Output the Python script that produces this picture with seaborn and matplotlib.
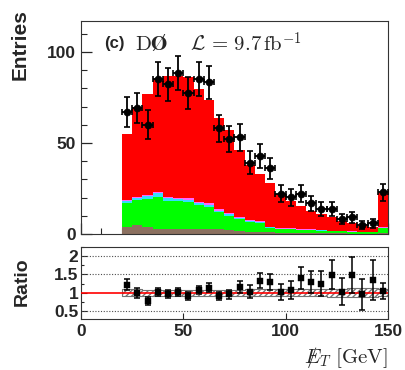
import numpy as np
import pandas as pd
import matplotlib
matplotlib.use('Agg')
import matplotlib.pyplot as plt
from matplotlib.ticker import MultipleLocator
import seaborn as sns

# binning: 5 GeV bins from 20 to 150
edges = np.arange(20, 155, 5)
centers = edges[:-1] + 2.5

data = [67.2, 69.2, 60.1, 85.0, 82.2, 88.3, 77.3, 85.2, 83.3, 58.0, 52.2, 53.1, 39.2,
        43.0, 36.0, 22.0, 20.1, 22.2, 16.8, 13.8, 13.7, 8.1, 9.2, 5.0, 6.0, 22.9]

# stacked backgrounds (per bin)
red = [36.3, 49.5, 55.6, 61.7, 66.7, 67.0, 66.4, 61.7, 56.8, 50.0, 45.6, 36.8, 30.3,
       25.9, 24.0, 18.7, 14.9, 12.8, 10.3, 8.8, 7.3, 5.3, 4.7, 3.1, 2.9, 18.6]
pink = [0.6, 0.7, 0.8, 0.9, 0.8, 0.8, 0.8, 0.8, 0.8, 0.7, 0.6, 0.5, 0.5,
        0.5, 0.4, 0.35, 0.35, 0.3, 0.3, 0.25, 0.2, 0.2, 0.2, 0.2, 0.15, 0.3]
cyan = [1.2, 1.3, 1.5, 2.2, 1.3, 1.3, 1.2, 1.1, 1.0, 0.9, 0.8, 0.6, 0.5,
        0.5, 0.3, 0.25, 0.2, 0.2, 0.2, 0.15, 0.15, 0.12, 0.1, 0.1, 0.08, 0.25]
green = [12.9, 13.5, 15.1, 17.2, 15.6, 15.3, 15.0, 13.1, 12.0, 9.5, 8.0, 6.5, 5.4,
         5.0, 2.4, 2.0, 1.95, 1.7, 1.6, 1.4, 1.25, 1.2, 1.0, 0.8, 0.67, 2.65]
brown = [4.0, 5.0, 4.0, 3.0, 2.6, 2.6, 2.6, 2.8, 3.0, 2.5, 2.0, 1.6, 1.3,
         1.1, 0.9, 0.7, 0.6, 0.5, 0.4, 0.4, 0.3, 0.3, 0.2, 0.2, 0.2, 0.5]

ratio = [1.22, 0.99, 0.78, 1.01, 0.95, 1.02, 0.91, 1.06, 1.14, 0.91, 0.95, 1.16, 1.03,
         1.33, 1.30, 1.02, 1.08, 1.41, 1.29, 1.25, 1.49, 1.03, 1.48, 0.95, 1.35, 1.04]
ratio_err = [0.15, 0.13, 0.11, 0.11, 0.11, 0.11, 0.10, 0.11, 0.13, 0.12, 0.13, 0.16, 0.17,
             0.21, 0.22, 0.22, 0.25, 0.30, 0.31, 0.34, 0.40, 0.36, 0.49, 0.42, 0.55, 0.22]
band = [0.09, 0.09, 0.08, 0.08, 0.08, 0.08, 0.08, 0.08, 0.08, 0.08, 0.08, 0.08, 0.09,
        0.09, 0.09, 0.09, 0.10, 0.10, 0.10, 0.10, 0.11, 0.11, 0.12, 0.12, 0.12, 0.10]

procs = ['red', 'pink', 'cyan', 'green', 'brown']
colors = {'red': '#ff0000', 'pink': '#ff66ff', 'cyan': '#33ddff',
          'green': '#00ff00', 'brown': '#8b7060'}

sns.set_style('ticks')
plt.rcParams['font.family'] = ['Liberation Sans', 'DejaVu Sans']
plt.rcParams['font.weight'] = 'bold'
plt.rcParams['mathtext.fontset'] = 'cm'
plt.rcParams['xtick.direction'] = 'in'
plt.rcParams['ytick.direction'] = 'in'

fig = plt.figure(figsize=(4.05, 3.70), dpi=100)
ax = fig.add_axes([0.2, 0.3676, 0.758, 0.5757])
rax = fig.add_axes([0.2, 0.138, 0.758, 0.1944])

mc = pd.DataFrame({
    'met': np.tile(centers, len(procs)),
    'w': np.concatenate([red, pink, cyan, green, brown]),
    'proc': np.repeat(procs, len(centers)),
})
sns.histplot(data=mc, x='met', weights='w', hue='proc', hue_order=procs,
             palette=colors, multiple='stack', bins=edges.tolist(), element='step',
             alpha=1, linewidth=0, legend=False, ax=ax)

ax.errorbar(centers, data, yerr=np.sqrt(data), xerr=2.5, fmt='none', ecolor='black',
            elinewidth=1.3, capsize=2.5, capthick=1.2, zorder=4)
sns.scatterplot(x=centers, y=data, color='black', marker='o', s=26, edgecolor='black',
                ax=ax, zorder=5)

ax.set_xlim(0, 150)
ax.set_ylim(0, 117)
ax.set_xlabel('')
ax.set_ylabel('')
ax.xaxis.set_major_locator(MultipleLocator(50))
ax.xaxis.set_minor_locator(MultipleLocator(10))
ax.yaxis.set_major_locator(MultipleLocator(50))
ax.yaxis.set_minor_locator(MultipleLocator(10))
ax.tick_params(axis='x', labelbottom=False)
ax.tick_params(which='major', length=8, width=0.9, labelsize=12.5)
ax.tick_params(which='minor', length=4, width=0.8)

ax.text(0.075, 0.895, '(c)', transform=ax.transAxes, fontsize=12, fontweight='bold', va='center')
ax.text(0.175, 0.895, r'$\mathrm{D\O}$', transform=ax.transAxes, fontsize=15, va='center')
ax.text(0.355, 0.895, r'$\mathcal{L}\,=\,9.7\,\mathrm{fb}^{-1}$', transform=ax.transAxes,
        fontsize=15, va='center')

# ratio panel
for yv in [0.5, 1.5, 2.0]:
    rax.axhline(yv, color='0.3', lw=0.8, ls=(0, (1, 1.5)), zorder=1)
lo = np.append(1 - np.array(band), 1 - band[-1])
hi = np.append(1 + np.array(band), 1 + band[-1])
rax.fill_between(edges, lo, hi, step='post', facecolor='white', edgecolor='0.45',
                 hatch='//////', lw=0.8, zorder=2)
rax.axhline(1.0, color='red', lw=1.2, zorder=3)
rax.errorbar(centers, ratio, yerr=ratio_err, fmt='none', ecolor='black', elinewidth=1.1,
             capsize=2.5, capthick=1.1, zorder=4)
sns.scatterplot(x=centers, y=ratio, color='black', marker='s', s=14, edgecolor='black',
                ax=rax, zorder=5)

rax.set_xlim(0, 150)
rax.set_ylim(0.28, 2.25)
rax.set_xlabel('')
rax.set_ylabel('')
rax.xaxis.set_major_locator(MultipleLocator(50))
rax.yaxis.set_minor_locator(MultipleLocator(0.25))
rax.set_yticks([0.5, 1, 1.5, 2])
rax.set_yticklabels(['0.5', '1', '1.5', '2'])
rax.tick_params(which='major', length=4, width=0.8, labelsize=12.5)
rax.tick_params(which='minor', length=2.5, width=0.8)
rax.tick_params(axis='y', pad=2)

for a in (ax, rax):
    for s in a.spines.values():
        s.set_color('0.2')
        s.set_linewidth(0.8)

fig.text(0.05, 0.975, 'Entries', rotation=90, ha='center', va='top', fontsize=15, fontweight='bold')
fig.text(0.055, 0.24, 'Ratio', rotation=90, ha='center', va='center', fontsize=14, fontweight='bold')
fig.text(0.958, 0.035, r'$/\!\!\!\!E_T\ \mathrm{[GeV]}$', ha='right', va='center', fontsize=15)

fig.savefig('out.png', dpi=100)
